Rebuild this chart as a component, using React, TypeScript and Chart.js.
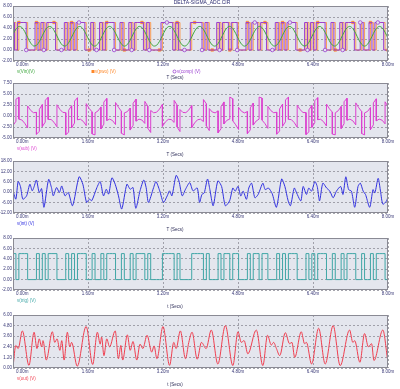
import React, { useEffect, useRef } from 'react';
import { Chart, registerables } from 'chart.js';

Chart.register(...registerables);

// ---------- data ----------
const X_TICKS = [0, 1.6, 3.2, 4.8, 6.4, 8.0];
const BIT_MS = 0.0625; // sample / clock period in ms
const HIGH_V = 5;
const COMP_LEAD_MS = -0.03;

// v(Vin) at every clock edge (0 .. 8 ms)
const VIN = [
  2.85, 3.80, 4.28, 4.11, 3.35, 2.28, 1.29, 0.74, 0.84, 1.54,
  2.59, 3.61, 4.22, 4.21, 3.57, 2.55, 1.50, 0.82, 0.75, 1.32,
  2.32, 3.39, 4.13, 4.27, 3.77, 2.81, 1.73, 0.93, 0.71, 1.14,
  2.06, 3.15, 3.99, 4.30, 3.94, 3.06, 1.98, 1.08, 0.70, 0.98,
  1.81, 2.89, 3.83, 4.29, 4.09, 3.31, 2.24, 1.26, 0.73, 0.85,
  1.57, 2.63, 3.64, 4.24, 4.20, 3.54, 2.50, 1.47, 0.80, 0.76,
  1.36, 2.37, 3.43, 4.15, 4.27, 3.74, 2.76, 1.69, 0.91, 0.71,
  1.17, 2.11, 3.19, 4.02, 4.30, 3.92, 3.02, 1.93, 1.06, 0.70,
  1.00, 1.85, 2.94, 3.86, 4.29, 4.07, 3.27, 2.19, 1.23, 0.73,
  0.87, 1.61, 2.68, 3.68, 4.25, 4.18, 3.50, 2.46, 1.43, 0.79,
  0.78, 1.39, 2.41, 3.46, 4.16, 4.26, 3.71, 2.72, 1.65, 0.89,
  0.72, 1.20, 2.15, 3.23, 4.04, 4.29, 3.90, 2.98, 1.89, 1.03,
  0.70, 1.03, 1.89, 2.98, 3.90, 4.29, 4.04, 3.23, 2.15,
];

// v(pwo) bitstream, one bit per clock period
const PWO_BITS = [
  '1011100010', '1011100010', '1011100100', '1011100100', '1011101000',
  '0111101000', '0111101000', '1011011000', '1011011000', '1010111000',
  '1010111001', '0010111001', '00101110',
].join('');
const COMP_BITS = PWO_BITS;
const TRIG_BITS = PWO_BITS;

// v(sub) just before and just after each clock edge
const SUB_BEFORE = [
  -2.15, -1.20, 4.28, -0.89, -1.65, -2.72, 1.29, 0.74, 0.84, -3.46,
  2.59, -1.39, 4.22, -0.79, -1.43, -2.45, 1.50, 0.82, 0.75, -3.68,
  2.32, -1.61, 4.13, -0.73, -1.23, -2.19, 1.73, 0.93, -4.29, 1.14,
  2.06, -1.85, 3.99, -0.70, -1.06, -1.94, 1.98, 1.08, -4.30, 0.98,
  1.81, -2.11, 3.83, -0.71, -0.91, -1.69, 2.24, -3.74, 0.73, 0.85,
  1.57, 2.63, -1.36, -0.76, -0.80, -1.46, 2.50, -3.53, 0.80, 0.76,
  1.36, 2.37, -1.57, -0.85, -0.73, -1.26, 2.76, -3.31, 0.91, 0.71,
  1.17, -2.89, 3.19, -0.98, -0.70, 3.92, -1.98, -3.07, 1.06, 0.70,
  1.00, -3.15, 2.94, -1.14, -0.71, 4.07, -1.73, -2.81, 1.23, 0.73,
  0.87, -3.39, 2.68, -1.32, 4.25, -0.82, -1.50, -2.54, 1.43, 0.79,
  0.78, -3.61, 2.41, -1.54, 4.16, -0.74, -1.29, -2.28, 1.65, 0.89,
  -4.28, 1.20, 2.15, -1.77, 4.04, -0.71, -1.10, -2.02, 1.89, 1.03,
  -4.30, 1.03, 1.89, -2.02, 3.90, -0.71, -0.96, -1.77, 2.15,
];
const SUB_AFTER = [
  -2.15, 3.80, -0.72, -0.89, -1.65, 2.28, 1.29, 0.74, -4.16, 1.54,
  -2.41, 3.61, -0.78, -0.79, -1.43, 2.55, 1.50, 0.82, -4.25, 1.32,
  -2.68, 3.39, -0.87, -0.73, -1.23, 2.81, 1.73, -4.07, 0.71, 1.14,
  -2.94, 3.15, -1.01, -0.70, -1.06, 3.06, 1.98, -3.92, 0.70, 0.98,
  -3.19, 2.89, -1.17, -0.71, -0.91, 3.31, -2.76, 1.26, 0.73, 0.85,
  1.57, -2.37, -1.36, -0.76, -0.80, 3.54, -2.50, 1.47, 0.80, 0.76,
  1.36, -2.63, -1.57, -0.85, -0.73, 3.74, -2.24, 1.69, 0.91, 0.71,
  -3.83, 2.11, -1.81, -0.98, 4.30, -1.08, -1.98, 1.93, 1.06, 0.70,
  -4.00, 1.85, -2.06, -1.14, 4.29, -0.93, -1.73, 2.19, 1.23, 0.73,
  -4.13, 1.61, -2.32, 3.68, -0.75, -0.82, -1.50, 2.46, 1.43, 0.79,
  -4.22, 1.39, -2.59, 3.46, -0.84, -0.74, -1.29, 2.72, 1.65, -4.11,
  0.72, 1.20, -2.85, 3.23, -0.96, -0.71, -1.10, 2.98, 1.89, -3.97,
  0.70, 1.03, -3.11, 2.98, -1.10, -0.71, -0.96, 3.23, 2.15,
];

// v(int)
const INT_T = [
  0.00, 0.06, 0.11, 0.16, 0.21, 0.29, 0.36, 0.41, 0.45, 0.50,
  0.56, 0.61, 0.66, 0.76, 0.82, 0.86, 0.93, 0.99, 1.04, 1.11,
  1.18, 1.27, 1.41, 1.49, 1.57, 1.63, 1.68, 1.79, 1.86, 1.93,
  1.99, 2.04, 2.11, 2.18, 2.25, 2.32, 2.43, 2.50, 2.56, 2.62,
  2.71, 2.79, 2.84, 2.89, 3.00, 3.05, 3.13, 3.21, 3.29, 3.34,
  3.39, 3.48, 3.54, 3.61, 3.68, 3.77, 3.84,
  3.93, 3.98, 4.03, 4.08, 4.15, 4.20, 4.27, 4.37, 4.45, 4.53,
  4.62, 4.69, 4.74, 4.80, 4.86, 4.91, 4.98, 5.03, 5.09, 5.16,
  5.23, 5.33, 5.38, 5.45, 5.53, 5.62, 5.73, 5.80, 5.87, 5.92,
  6.00, 6.05, 6.14, 6.19, 6.26, 6.31, 6.37, 6.44, 6.49, 6.54,
  6.61, 6.69, 6.76, 6.83, 6.90, 6.99, 7.04, 7.10, 7.16, 7.22,
  7.29, 7.36, 7.41, 7.47, 7.52, 7.61, 7.68, 7.72, 7.79, 7.84,
  7.89, 7.97, 8.00,
];
const INT_V = [
  0.8, -4.0, 6.1, 3.2, -4.0, -2.1, 4.6, 0.8, 3.2, 7.0,
  -0.2, 2.1, -8.7, 7.4, 2.7, -2.1, 2.7, -0.2, 3.6, -2.1,
  -0.2, -7.8, 8.9, 4.6, -5.9, -4.0, -4.9, 2.7, 6.1, -2.1,
  1.7, -1.1, 8.3, 4.6, -2.1, -9.7, 4.6, 1.7, 2.7, -9.3,
  0.8, 7.0, 2.7, -5.9, 2.7, 6.1, 0.8, -5.9, -2.1, 0.8,
  -2.1, 9.7, 6.5, -2.1, 1.7, 5.5, 0.8,
  2.4, -5.9, -1.3, -0.4, 7.6, 1.5, -7.8, 6.5, 3.3, -7.8,
  -5.0, 2.4, 0.6, 3.3, -2.2, 0.6, -4.1, 2.4, 5.2, -3.2,
  -1.3, 5.2, 1.5, 2.4, -0.9, -8.7, 7.6, 3.3, -5.0, -7.8,
  2.4, -0.4, -5.0, 3.3, -1.3, 2.4, 0.6, 6.1, 3.3, -5.0,
  5.2, 2.4, 0.6, -3.2, 0.6, 3.3, -1.3, 8.9, 1.5, 0.6,
  -8.7, 3.3, 5.2, 0.6, -1.3, -8.7, 1.5, -0.4, 8.0, 0.6,
  -6.9, -5.0, -2.2,
];

// v(out)
const OUT_T = [
  0.00, 0.06, 0.11, 0.20, 0.34, 0.45, 0.51, 0.56, 0.61, 0.64,
  0.71, 0.84, 0.89, 0.94, 1.00, 1.04, 1.09, 1.16, 1.21, 1.25,
  1.37, 1.56, 1.70, 1.80, 1.86, 1.89, 1.94, 2.00, 2.06, 2.18,
  2.25, 2.30, 2.34, 2.44, 2.50, 2.56, 2.64, 2.71, 2.77, 2.86,
  2.96, 3.01, 3.07, 3.20, 3.34, 3.43, 3.48, 3.57, 3.68, 3.75,
  3.82, 3.93, 4.02, 4.12, 4.23, 4.37, 4.53, 4.69, 4.80, 4.87,
  4.93, 5.01, 5.19, 5.33, 5.43, 5.51, 5.56, 5.62, 5.69, 5.81,
  5.90, 5.95, 6.01, 6.15, 6.22, 6.26, 6.37, 6.52, 6.66, 6.83,
  6.98, 7.18, 7.25, 7.29, 7.40, 7.50, 7.58, 7.65, 7.70, 7.89,
  7.99,
];
const OUT_V = [
  0.1, 2.55, 2.2, 4.2, 0.3, 4.05, 2.2, 3.3, 2.4, 3.1,
  0.9, 4.1, 2.9, 3.3, 2.0, 3.1, 0.9, 4.05, 2.4, 2.9,
  0.2, 4.7, 0.4, 4.05, 2.7, 3.5, 1.4, 3.3, 2.4, 4.2,
  1.05, 2.55, 0.9, 3.75, 2.0, 3.0, 0.9, 2.7, 2.2, 3.7,
  1.8, 2.5, 1.05, 4.7, 0.3, 2.9, 2.2, 4.2, 1.05, 2.9,
  4.05, 1.0, 2.9, 2.2, 4.3, 0.45, 4.8, 0.27, 4.1, 2.9,
  3.1, 1.6, 4.3, 0.27, 3.7, 2.6, 2.9, 2.2, 1.4, 4.0,
  2.75, 2.9, 1.2, 4.1, 2.75, 2.9, 0.45, 4.5, 0.45, 4.8,
  0.27, 4.3, 2.9, 3.1, 0.65, 3.9, 2.4, 2.75, 0.85, 4.3,
  1.0,
];

const Y1_TICKS = [-2, 0, 2, 4, 6, 8];
const Y2_TICKS = [-5, -2.5, 0, 2.5, 5, 7.5];
const Y3_TICKS = [-12, -6, 0, 6, 12, 18];
const Y4_TICKS = [-2, 0, 2, 4, 6, 8];
const Y5_TICKS = [0, 1.2, 2.4, 3.6, 4.8, 6];

const TITLE = 'DELTA-SIGMA_ADC.CIR';

// ---------- styles ----------
const FONT = "'Liberation Sans', Arial, sans-serif";
const TICK_COLOR = '#3a3a78';
const PLOT_BG = '#e4e6ee';
const GRID = '#8e8e98';
const FRAME = '#8a8a94';
const C_VIN = '#3fa83f';
const C_PWO = 'rgba(255,140,50,0.8)';
const C_COMP = '#9a3fd0';
const C_SUB = '#dc3fcf';
const C_INT = '#3232e0';
const C_TRIG = '#3fa6a6';
const C_OUT = '#f03f50';

const xy = (t: number[], v: number[]) => t.map((x, i) => ({ x, y: v[i] }));
const bitsToSteps = (bits: string, t0: number) => {
  const pts = bits.split('').map((b, i) => ({ x: t0 + i * BIT_MS, y: b === '1' ? HIGH_V : 0 }));
  pts.push({ x: t0 + bits.length * BIT_MS, y: pts[pts.length - 1].y });
  return pts;
};
const subPoints = () => {
  const pts: { x: number; y: number }[] = [];
  SUB_BEFORE.forEach((b, i) => {
    pts.push({ x: i * BIT_MS, y: b });
    pts.push({ x: i * BIT_MS, y: SUB_AFTER[i] });
  });
  return pts;
};

type Legend = { text: string; color: string; x: number; marker?: 'rect' | 'circle' };
type Panel = {
  plotTop: number;
  plotH: number;
  yTicks: number[];
  datasets: any[];
  legend: Legend[];
  xTitle: string;
  title?: string;
};

const PANELS: Panel[] = [
  {
    plotTop: 6,
    plotH: 55,
    yTicks: Y1_TICKS,
    title: TITLE,
    xTitle: 'T (Secs)',
    legend: [
      { text: 'v(Vin)(V)', color: C_VIN, x: 17 },
      { text: 'v(pwo) (V)', color: '#ff8828', x: 95, marker: 'rect' },
      { text: 'v(comp) (V)', color: C_COMP, x: 177, marker: 'circle' },
    ],
    datasets: [
      {
        data: VIN.map((v, i) => ({ x: i * BIT_MS, y: v })),
        borderColor: C_VIN,
        borderWidth: 1,
        tension: 0.3,
        pointRadius: 0,
      },
      {
        data: bitsToSteps(COMP_BITS, COMP_LEAD_MS),
        borderColor: C_COMP,
        borderWidth: 1,
        stepped: true,
        pointStyle: 'circle',
        pointRadius: (c: any) => (c.dataIndex % 6 === 5 ? 1.8 : 0),
        pointBackgroundColor: PLOT_BG,
        pointBorderColor: C_COMP,
        pointBorderWidth: 0.8,
      },
      {
        data: bitsToSteps(PWO_BITS, 0),
        borderColor: C_PWO,
        borderWidth: 1,
        stepped: true,
        pointStyle: 'rect',
        pointRadius: (c: any) => (c.dataIndex % 6 === 2 ? 1.8 : 0),
        pointBackgroundColor: '#ff8828',
        pointBorderColor: '#ff8828',
        pointBorderWidth: 0.5,
      },
    ],
  },
  {
    plotTop: 83,
    plotH: 55,
    yTicks: Y2_TICKS,
    xTitle: 'T (Secs)',
    legend: [{ text: 'v(sub) (V)', color: C_SUB, x: 17 }],
    datasets: [
      { data: subPoints(), borderColor: C_SUB, borderWidth: 1, tension: 0, pointRadius: 0 },
    ],
  },
  {
    plotTop: 161,
    plotH: 52,
    yTicks: Y3_TICKS,
    xTitle: 'T (Secs)',
    legend: [{ text: 'v(int) (V)', color: C_INT, x: 17 }],
    datasets: [
      { data: xy(INT_T, INT_V), borderColor: C_INT, borderWidth: 1, tension: 0.25, pointRadius: 0 },
    ],
  },
  {
    plotTop: 238,
    plotH: 52,
    yTicks: Y4_TICKS,
    xTitle: 't (Secs)',
    legend: [{ text: 'v(trig) (V)', color: C_TRIG, x: 17 }],
    datasets: [
      { data: bitsToSteps(TRIG_BITS, 0), borderColor: C_TRIG, borderWidth: 1, stepped: true, pointRadius: 0 },
    ],
  },
  {
    plotTop: 315,
    plotH: 53,
    yTicks: Y5_TICKS,
    xTitle: 't (Secs)',
    legend: [{ text: 'v(out) (V)', color: C_OUT, x: 17 }],
    datasets: [
      {
        data: xy(OUT_T, OUT_V),
        borderColor: C_OUT,
        borderWidth: 1,
        cubicInterpolationMode: 'monotone',
        pointRadius: 0,
      },
    ],
  },
];

const TOP_PAD = 6;
const X_AREA = 22;

const makeDeco = (p: Panel) => ({
  id: 'deco',
  beforeDraw(chart: any) {
    const { ctx, chartArea: a } = chart;
    ctx.save();
    ctx.fillStyle = PLOT_BG;
    ctx.fillRect(a.left, a.top, a.right - a.left, a.bottom - a.top);
    ctx.restore();
  },
  afterDraw(chart: any) {
    const { ctx, chartArea: a } = chart;
    ctx.save();
    ctx.strokeStyle = FRAME;
    ctx.lineWidth = 1;
    ctx.strokeRect(a.left + 0.5, a.top + 0.5, a.right - a.left - 1, a.bottom - a.top - 1);

    ctx.font = `4.5px ${FONT}`;
    ctx.textBaseline = 'middle';
    // first x tick label (left aligned)
    ctx.fillStyle = TICK_COLOR;
    ctx.textAlign = 'left';
    const x0 = chart.scales.x.getPixelForValue(X_TICKS[0]);
    ctx.fillText(X_TICKS[0].toFixed(2) + 'm', x0 + 3, a.bottom + 3.7);

    // legend
    const ly = a.bottom + 10.5;
    p.legend.forEach((l) => {
      ctx.fillStyle = l.color;
      ctx.strokeStyle = l.color;
      if (l.marker === 'rect') {
        ctx.fillRect(l.x - 3.5, ly - 1.5, 3, 3);
      } else if (l.marker === 'circle') {
        ctx.lineWidth = 0.8;
        ctx.beginPath();
        ctx.arc(l.x - 2.5, ly, 1.5, 0, Math.PI * 2);
        ctx.stroke();
      }
      ctx.textAlign = 'left';
      ctx.fillText(l.text, l.x, ly);
    });

    // x title
    ctx.fillStyle = '#30305a';
    ctx.textAlign = 'center';
    ctx.fillText(p.xTitle, 175, a.bottom + 16.5);

    if (p.title) {
      ctx.font = `5px ${FONT}`;
      ctx.fillStyle = '#2a2a70';
      ctx.fillText(p.title, 202, a.top - 3);
    }
    ctx.restore();
  },
});

export default function App() {
  const refs = useRef<(HTMLCanvasElement | null)[]>([]);

  useEffect(() => {
    const charts = PANELS.map((p, i) => {
      const canvas = refs.current[i]!;
      const yMin = p.yTicks[0];
      const yMax = p.yTicks[p.yTicks.length - 1];
      return new Chart(canvas, {
        type: 'line',
        data: { datasets: p.datasets },
        options: {
          animation: false,
          responsive: false,
          maintainAspectRatio: false,
          events: [],
          layout: { padding: { top: TOP_PAD, right: 12, left: 0, bottom: 0 } },
          plugins: { legend: { display: false }, tooltip: { enabled: false } },
          scales: {
            x: {
              type: 'linear',
              min: X_TICKS[0],
              max: X_TICKS[X_TICKS.length - 1],
              afterBuildTicks: (s: any) => {
                s.ticks = X_TICKS.map((v) => ({ value: v }));
              },
              afterFit: (s: any) => {
                s.height = X_AREA;
              },
              grid: { color: GRID, lineWidth: 0.8, drawTicks: false },
              border: { display: false, dash: [2, 2] },
              ticks: {
                padding: 1.5,
                color: TICK_COLOR,
                autoSkip: false,
                maxRotation: 0,
                font: { family: FONT, size: 4.5 },
                callback: (v: any) => (Number(v) === X_TICKS[0] ? '' : Number(v).toFixed(2) + 'm'),
              },
            },
            y: {
              type: 'linear',
              min: yMin,
              max: yMax,
              afterBuildTicks: (s: any) => {
                s.ticks = p.yTicks.map((v) => ({ value: v }));
              },
              afterFit: (s: any) => {
                s.width = 13;
              },
              grid: { color: GRID, lineWidth: 0.8, drawTicks: false },
              border: { display: false, dash: [2, 2] },
              ticks: {
                padding: 1,
                color: TICK_COLOR,
                autoSkip: false,
                font: { family: FONT, size: 4.5 },
                callback: (v: any) => Number(v).toFixed(2),
              },
            },
          },
        } as any,
        plugins: [makeDeco(p)],
      });
    });
    return () => charts.forEach((c) => c.destroy());
  }, []);

  return (
    <div
      style={{
        position: 'absolute',
        left: 0,
        top: 0,
        width: 400,
        height: 389,
        overflow: 'hidden',
        background: '#ffffff',
      }}
    >
      {PANELS.map((p, i) => (
        <canvas
          key={i}
          ref={(el) => {
            refs.current[i] = el;
          }}
          width={400}
          height={p.plotH + TOP_PAD + X_AREA}
          style={{
            position: 'absolute',
            left: 0,
            top: p.plotTop - TOP_PAD,
            width: 400,
            height: p.plotH + TOP_PAD + X_AREA,
            display: 'block',
          }}
        />
      ))}
    </div>
  );
}
